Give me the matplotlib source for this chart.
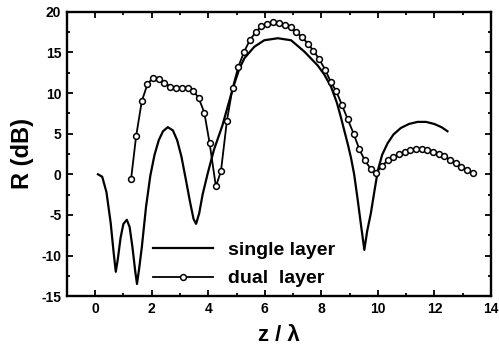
import matplotlib
matplotlib.use("Agg")
import matplotlib.pyplot as plt
from matplotlib.ticker import MultipleLocator

plt.rcParams['font.family'] = ['Liberation Sans', 'DejaVu Sans']
plt.rcParams['axes.unicode_minus'] = False

# single layer
z_single = [0.10, 0.25, 0.40, 0.55, 0.65, 0.73, 0.80, 0.90, 1.00, 1.12,
            1.22, 1.32, 1.42, 1.48, 1.56, 1.65, 1.80, 1.95, 2.10, 2.25,
            2.40, 2.57, 2.75, 2.90, 3.05, 3.20, 3.35, 3.48, 3.57, 3.68,
            3.80, 3.98, 4.20, 4.50, 4.87, 5.10, 5.28, 5.63, 5.98, 6.46,
            6.93, 7.40, 7.87, 8.10, 8.34, 8.55, 8.70, 8.81, 8.95, 9.05,
            9.16, 9.28, 9.40, 9.52, 9.62, 9.75, 9.88, 10.00, 10.15, 10.34,
            10.55, 10.81, 11.10, 11.40, 11.70, 11.99, 12.25, 12.46]
r_single = [0.0, -0.3, -2.2, -6.0, -9.5, -12.0, -10.5, -7.8, -6.1, -5.6,
            -6.5, -9.0, -12.0, -13.5, -11.5, -9.0, -4.0, -0.2, 2.4, 4.2,
            5.3, 5.8, 5.4, 4.2, 2.2, -0.5, -3.3, -5.5, -6.1, -4.8,
            -2.5, 0.1, 3.0, 6.0, 10.6, 13.0, 14.3, 15.7, 16.5, 16.75,
            16.5, 15.1, 13.4, 12.3, 10.8, 8.8, 6.9, 5.4, 3.5, 2.0,
            0.0, -3.0, -6.2, -9.3, -7.0, -4.8, -2.0, 0.5, 2.4, 3.8,
            4.9, 5.7, 6.2, 6.45, 6.45, 6.2, 5.8, 5.3]

# dual layer
z_dual = [1.27, 1.45, 1.65, 1.85, 2.05, 2.25, 2.45, 2.66, 2.86, 3.06,
          3.27, 3.47, 3.66, 3.86, 4.05, 4.27, 4.45, 4.66, 4.86, 5.06,
          5.27, 5.47, 5.68, 5.88, 6.09, 6.30, 6.51, 6.71, 6.91, 7.11,
          7.31, 7.52, 7.72, 7.92, 8.13, 8.33, 8.53, 8.73, 8.93, 9.14,
          9.34, 9.54, 9.74, 9.94, 10.14, 10.34, 10.55, 10.75, 10.95, 11.15,
          11.35, 11.55, 11.75, 11.95, 12.15, 12.35, 12.55, 12.75, 12.95, 13.15,
          13.35]
r_dual = [-0.6, 4.7, 9.0, 11.1, 11.9, 11.7, 11.3, 10.8, 10.6, 10.6,
          10.6, 10.3, 9.4, 7.6, 3.8, -1.5, 0.4, 6.6, 10.6, 13.2,
          15.1, 16.5, 17.5, 18.2, 18.5, 18.7, 18.6, 18.4, 18.1, 17.5,
          16.9, 16.1, 15.2, 14.2, 12.9, 11.4, 10.2, 8.5, 6.8, 5.0,
          3.1, 1.7, 0.7, 0.2, 1.0, 1.7, 2.1, 2.5, 2.8, 3.0,
          3.1, 3.1, 3.0, 2.8, 2.5, 2.2, 1.8, 1.4, 0.9, 0.5,
          0.1]

fig = plt.figure(figsize=(4.99, 3.48), dpi=100)
ax = fig.add_axes([0.134, 0.149, 0.850, 0.817])

ax.plot(z_single, r_single, color='black', lw=1.6, label='single layer')
ax.plot(z_dual, r_dual, color='black', lw=1.3, marker='o', ms=4.2,
        mfc='white', mec='black', mew=1.1, label='dual  layer')

ax.set_xlim(-1, 14)
ax.set_ylim(-15, 20)
ax.xaxis.set_major_locator(MultipleLocator(2))
ax.xaxis.set_minor_locator(MultipleLocator(1))
ax.yaxis.set_major_locator(MultipleLocator(5))
ax.yaxis.set_minor_locator(MultipleLocator(2.5))
ax.tick_params(which='both', direction='in', top=True, right=True, width=1.3)
ax.tick_params(which='major', length=4, pad=4)
ax.tick_params(which='minor', length=2.5)
for lbl in ax.get_xticklabels() + ax.get_yticklabels():
    lbl.set_fontweight('bold')
    lbl.set_fontsize(10)
for s in ax.spines.values():
    s.set_linewidth(1.7)

ax.set_xlabel('z / λ', fontsize=16, fontweight='bold', labelpad=7)
ax.set_ylabel('R (dB)', fontsize=17, fontweight='bold', labelpad=5)

leg = ax.legend(loc='lower left', bbox_to_anchor=(0.175, -0.01), frameon=False,
                handlelength=3.1, handletextpad=0.78,
                labelspacing=0.55, borderaxespad=0.2,
                prop={'size': 14, 'weight': 'bold'})

fig.savefig('out.png', dpi=100)
